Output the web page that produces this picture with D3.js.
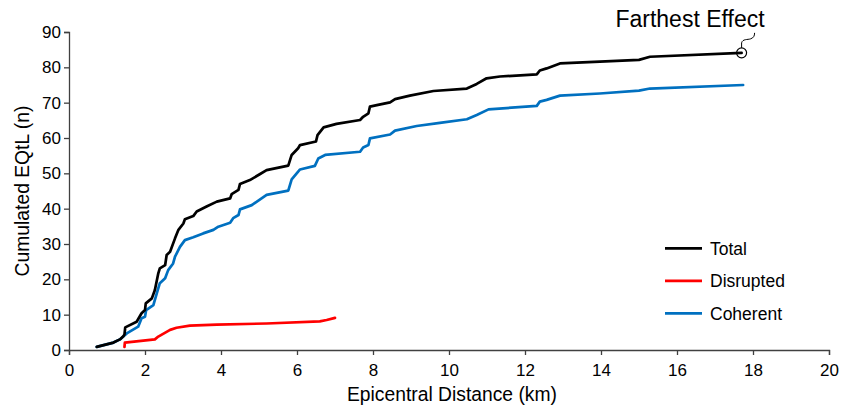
<!DOCTYPE html>
<html><head><meta charset="utf-8">
<script src="https://cdn.jsdelivr.net/npm/d3@7"></script>
<style>body{margin:0;background:#fff}svg{display:block}text{font-family:"Liberation Sans",Arial,sans-serif}</style>
</head><body><svg id="c" width="843" height="405"></svg>
<script>
const xTicks = [0,2,4,6,8,10,12,14,16,18,20];
const yTicks = [0,10,20,30,40,50,60,70,80,90];
const totalX = [0.73,1.17,1.34,1.43,1.46,1.48,1.78,1.91,2.0,2.02,2.18,2.26,2.35,2.39,2.53,2.57,2.66,2.79,2.88,3.01,3.05,3.27,3.36,3.62,3.89,4.24,4.28,4.46,4.5,4.76,5.03,5.2,5.77,5.86,6.03,6.08,6.5,6.54,6.7,7.04,7.66,7.74,7.88,7.92,8.1,8.45,8.58,8.97,9.59,10.47,10.73,10.99,11.34,12.31,12.39,12.57,12.92,13.97,15.0,15.29,17.7];
const totalY = [0.9,2.1,3.0,3.9,4.4,6.4,8.0,10.4,11.3,13.2,14.6,17.0,21.7,23.1,24.0,26.9,27.8,31.6,34.0,35.8,37.0,37.9,39.2,40.6,42.0,42.9,44.1,45.3,47.0,48.1,49.8,50.9,52.2,55.2,57.1,58.0,59.0,60.8,63.0,64.0,65.1,66.0,67.0,68.9,69.3,70.1,71.0,72.0,73.3,74.0,75.3,76.9,77.4,78.0,79.1,79.7,81.1,81.6,82.1,83.0,84.1];
const coherentX = [0.73,1.17,1.34,1.52,1.82,1.91,2.0,2.03,2.22,2.31,2.39,2.53,2.61,2.74,2.79,2.92,3.05,3.27,3.53,3.8,3.93,4.24,4.32,4.46,4.5,4.81,5.2,5.77,5.86,6.03,6.08,6.47,6.56,6.74,7.66,7.74,7.88,7.92,8.45,8.58,9.15,9.76,10.47,10.73,11.04,12.31,12.39,12.57,12.92,13.97,15.0,15.29,17.74];
const coherentY = [0.9,2.1,3.0,4.7,6.6,9.0,9.4,11.3,12.7,16.0,18.9,20.3,22.6,24.5,26.4,29.2,31.1,31.9,33.0,34.0,34.9,36.0,37.3,38.2,39.8,41.0,43.9,45.1,48.3,50.5,51.1,52.1,54.2,55.2,56.1,57.3,58.0,59.9,61.0,62.1,63.4,64.3,65.3,66.5,68.1,69.1,70.3,70.8,72.0,72.6,73.4,74.0,75.0];
const disruptedX = [1.46,1.47,2.26,2.35,2.66,2.83,3.18,3.89,5.2,6.6,6.78,7.0];
const disruptedY = [0.9,2.1,3.0,3.8,5.7,6.3,6.9,7.2,7.5,8.1,8.5,9.1];
const seriesNames = ["Total","Disrupted","Coherent"];
const seriesColors = ["#000000","#ff0000","#0070c0"];
const annotation = "Farthest Effect";

const svg = d3.select("#c");
const x = d3.scaleLinear().domain([0,20]).range([69,829]);
const y = d3.scaleLinear().domain([0,90]).range([350,32]);

const axCol = "#404040";
const gx = svg.append("g").attr("transform","translate(0,350)")
  .call(d3.axisBottom(x).tickValues(xTicks).tickSize(5).tickPadding(9));
const gy = svg.append("g").attr("transform","translate(69,0)")
  .call(d3.axisLeft(y).tickValues(yTicks).tickSize(5).tickPadding(3));
[gx,gy].forEach(g=>{
  g.select(".domain").attr("stroke",axCol).attr("stroke-width",1.3);
  g.selectAll(".tick line").attr("stroke",axCol).attr("stroke-width",1.3);
  g.selectAll(".tick text").attr("fill","#000").style("font-size","17px").style("font-family","'Liberation Sans',Arial,sans-serif");
});

svg.append("text").attr("x",452).attr("y",401).attr("text-anchor","middle")
  .style("font-size","19.3px").text("Epicentral Distance (km)");
svg.append("text").attr("transform","translate(29,191) rotate(-90)").attr("text-anchor","middle")
  .style("font-size","19.3px").text("Cumulated EQtL (n)");

const line = d3.line().x(d=>x(d[0])).y(d=>y(d[1]));
const data = [
  d3.zip(totalX,totalY),
  d3.zip(disruptedX,disruptedY),
  d3.zip(coherentX,coherentY)
];
[2,1,0].forEach(i=>{
  svg.append("path").datum(data[i]).attr("d",line).attr("fill","none")
    .attr("stroke",seriesColors[i]).attr("stroke-width",2.7).attr("stroke-linejoin","round").attr("stroke-linecap","round");
});

// legend
seriesNames.forEach((n,i)=>{
  const ly = 248.3 + i*32.5;
  svg.append("line").attr("x1",665).attr("x2",702).attr("y1",ly).attr("y2",ly)
    .attr("stroke",seriesColors[i]).attr("stroke-width",2.7);
  svg.append("text").attr("x",710).attr("y",ly+6.5).style("font-size","17.5px").text(n);
});

// annotation
const last = data[0][data[0].length-1];
const cx = x(last[0]), cy = y(last[1]);
svg.append("circle").attr("cx",cx).attr("cy",cy).attr("r",5).attr("fill","none").attr("stroke","#000").attr("stroke-width",1.2);
svg.append("path").attr("d",`M${cx},${cy-5} L${cx},${cy-10} C${cx+1},${cy-14} ${cx+6},${cy-13} ${cx+9},${cy-14} C${cx+12},${cy-15} ${cx+13},${cy-17} ${cx+13},${cy-20}`)
  .attr("fill","none").attr("stroke","#000").attr("stroke-width",1);
svg.append("text").attr("x",690).attr("y",27).attr("text-anchor","middle").style("font-size","23px").text(annotation);
</script></body></html>
